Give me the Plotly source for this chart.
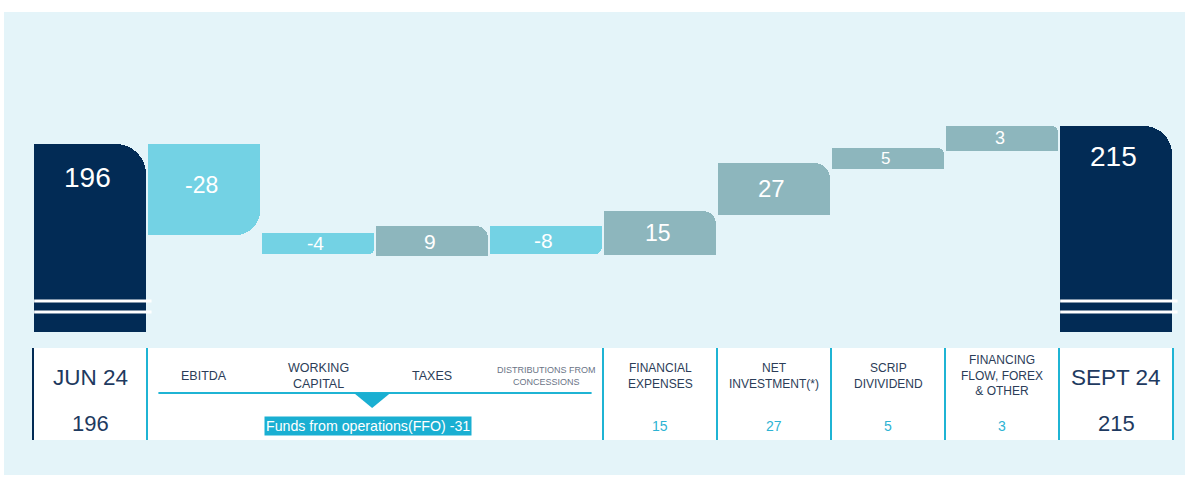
import plotly.graph_objects as go

# ---------------- data ----------------
categories = ["JUN 24", "EBITDA", "WORKING<br>CAPITAL", "TAXES",
              "DISTRIBUTIONS FROM<br>CONCESSIONS", "FINANCIAL<br>EXPENSES",
              "NET<br>INVESTMENT(*)", "SCRIP<br>DIVIVIDEND",
              "FINANCING<br>FLOW, FOREX<br>& OTHER", "SEPT 24"]
values = [196, -28, -4, 9, -8, 15, 27, 5, 3, 215]
kinds = ["total", "neg", "neg", "pos", "neg", "pos", "pos", "pos", "pos", "total"]
# drawn (not-to-scale) levels of each bar
bar_low = [0, 101, 81, 79, 81, 80, 122, 170, 189, 0]
bar_high = [196, 196, 103, 110, 110, 126, 176, 192, 215, 215]
table_values = ["196", "", "", "", "", "15", "27", "5", "3", "215"]
ffo_label = "Funds from operations(FFO) -31"

# ---------------- style ----------------
NAVY = "#022b55"
CYAN = "#73d2e4"
TEAL = "#8db6bd"
PANEL = "#e4f4f9"
LINE = "#1fb4d4"
TXT = "#2b3d58"
color_of = {"total": NAVY, "neg": CYAN, "pos": TEAL}
radius = [30, 24, 5, 12, 7, 13, 16, 6, 6, 28]
label_size = [28, 23, 19, 21, 21, 23, 24, 17, 18, 28]
FONT = "Liberation Sans, Arial, sans-serif"

W, H = 1188, 478
ML, MR, MT, MB = 4, 3, 12, 3
COL_W = 114.0          # px per category
X0_PX = 90.0           # px centre of first category
Y0_PX = 332.0          # px of level 0
K = 0.96               # px per unit

x_range = [(ML - X0_PX) / COL_W, (W - MR - X0_PX) / COL_W]
y_range = [(Y0_PX - (H - MB)) / K, (Y0_PX - MT) / K]


def ypx(px):
    return (Y0_PX - px) / K


BW = 0.98
fig = go.Figure()
n = len(values)
for i in range(n):
    col = color_of[kinds[i]]
    if kinds[i] == "neg":
        base, h = bar_high[i], -(bar_high[i] - bar_low[i])
    else:
        base, h = bar_low[i], bar_high[i] - bar_low[i]
    plain = dict(color=col, line=dict(width=0))
    # square left half (keeps the left corner square)
    fig.add_trace(go.Bar(x=[i], y=[h], base=[base], width=[BW / 2], offset=-BW / 2,
                         marker=plain, hoverinfo="skip", showlegend=False))
    # square half on the base side (keeps the base-side corners square)
    fig.add_trace(go.Bar(x=[i], y=[h / 2], base=[base], width=[BW], offset=-BW / 2,
                         marker=plain, hoverinfo="skip", showlegend=False))
    # full bar with rounded end
    fig.add_trace(go.Bar(x=[i], y=[h], base=[base], width=[BW], offset=-BW / 2,
                         marker=dict(color=col, line=dict(width=0), cornerradius=radius[i]),
                         hovertemplate=f"{categories[i]}: {values[i]}<extra></extra>",
                         showlegend=False))

annotations = []
for i in range(n):
    if kinds[i] == "total":
        annotations.append(dict(x=i - 0.02, y=bar_high[i], yanchor="middle", yshift=-34 if i == 0 else -31,
                                text=str(values[i]), showarrow=False,
                                font=dict(family=FONT, size=label_size[i], color="white")))
    else:
        annotations.append(dict(x=i - 0.02, y=(bar_low[i] + bar_high[i]) / 2, yanchor="middle",
                                yshift=4 if i == 1 else 0,
                                text=str(values[i]), showarrow=False,
                                font=dict(family=FONT, size=label_size[i], color="white")))

# ---------------- table ----------------
shapes = []
shapes.append(dict(type="rect", xref="x", yref="y", x0=-0.5, x1=n - 0.5,
                   y0=ypx(440), y1=ypx(348), fillcolor="white", line=dict(width=0), layer="below"))
for j, b in enumerate([-0.5, 0.5, 4.5, 5.5, 6.5, 7.5, 8.5, 9.5]):
    shapes.append(dict(type="line", xref="x", yref="y", x0=b, x1=b, y0=ypx(440), y1=ypx(348),
                       line=dict(color=NAVY if j == 0 else LINE, width=2)))
# break marks on total bars
for i in [0, n - 1]:
    for yp in [301, 312]:
        shapes.append(dict(type="line", xref="x", yref="y", x0=i - BW / 2, x1=i + BW / 2 + 0.05,
                           y0=ypx(yp), y1=ypx(yp), line=dict(color="white", width=3)))
# FFO bracket line and triangle
shapes.append(dict(type="line", xref="x", yref="y", x0=0.60, x1=4.40, y0=ypx(393), y1=ypx(393),
                   line=dict(color=LINE, width=2)))
tri_x = 2.475
shapes.append(dict(type="path", xref="x", yref="y",
                   path=f"M {tri_x-0.16},{ypx(393)} L {tri_x+0.16},{ypx(393)} L {tri_x},{ypx(408)} Z",
                   fillcolor="#1aafd2", line=dict(width=0)))

for i in range(n):
    if kinds[i] == "total":
        annotations.append(dict(x=i, y=ypx(377), text=categories[i], showarrow=False,
                                font=dict(family=FONT, size=22.5, color="#1e3a60")))
        annotations.append(dict(x=i, y=ypx(423), text=table_values[i], showarrow=False,
                                font=dict(family=FONT, size=22, color="#1e3a60")))
    else:
        small = i == 4
        yc = 376 if i < 8 else 375
        fs = 9 if small else (12.5 if i < 4 else 12)
        annotations.append(dict(x=i, y=ypx(yc), text=categories[i], showarrow=False,
                                font=dict(family=FONT, size=fs,
                                          color="#6a7486" if small else TXT)))
        if table_values[i]:
            annotations.append(dict(x=i, y=ypx(426), text=table_values[i], showarrow=False,
                                    font=dict(family=FONT, size=14, color="#2db3d3")))

annotations.append(dict(x=2.435, y=ypx(425.5), text=ffo_label, showarrow=False,
                        bgcolor="#1aafd2", borderpad=1,
                        font=dict(family=FONT, size=14.2, color="white")))

fig.update_layout(
    width=W, height=H,
    margin=dict(l=ML, r=MR, t=MT, b=MB),
    paper_bgcolor="white", plot_bgcolor=PANEL,
    barmode="overlay", bargap=0,
    xaxis=dict(range=x_range, visible=False, fixedrange=True),
    yaxis=dict(range=y_range, visible=False, fixedrange=True),
    shapes=shapes, annotations=annotations,
    font=dict(family=FONT),
    showlegend=False,
)

fig.write_html("out.html", config={"displayModeBar": False},
               post_script="document.body.style.margin='0';document.body.style.overflow='hidden';")
